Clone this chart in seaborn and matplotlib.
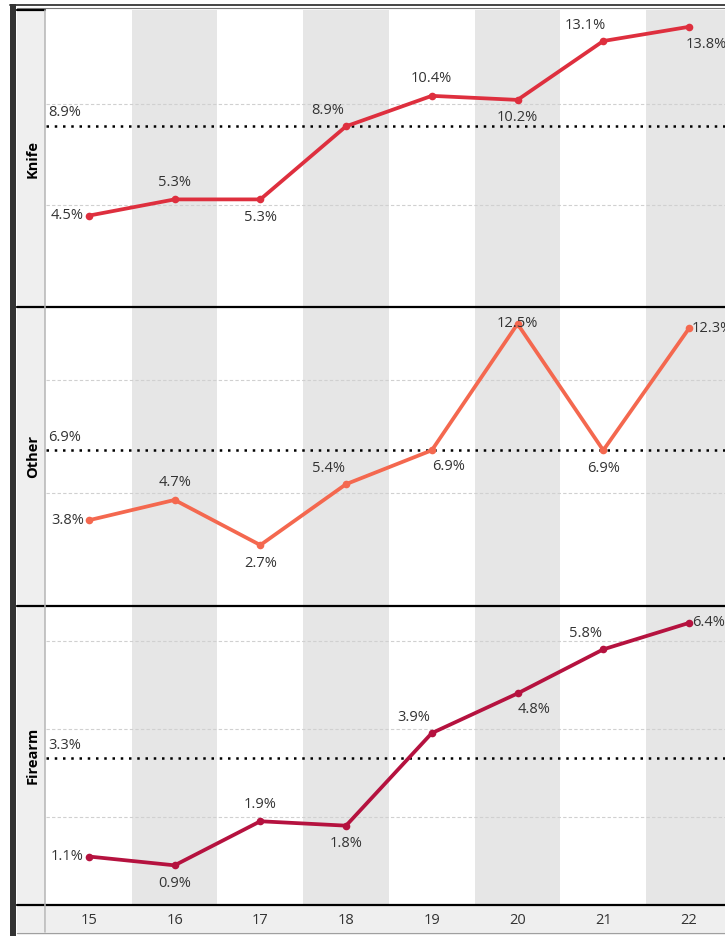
import numpy as np
import pandas as pd
import matplotlib
matplotlib.use("Agg")
import matplotlib.pyplot as plt
from matplotlib.lines import Line2D
from matplotlib.patches import Rectangle
import seaborn as sns

# ---------------- data ----------------
years = [15, 16, 17, 18, 19, 20, 21, 22]
categories = ["Knife", "Other", "Firearm"]
knife = [4.5, 5.3, 5.3, 8.9, 10.4, 10.2, 13.1, 13.8]
other = [3.8, 4.7, 2.7, 5.4, 6.9, 12.5, 6.9, 12.3]
firearm = [1.1, 0.9, 1.9, 1.8, 3.9, 4.8, 5.8, 6.4]
grid_ticks = {"Knife": [5, 10], "Other": [5, 10], "Firearm": [2, 4, 6]}

series = {"Knife": knife, "Other": other, "Firearm": firearm}
df = pd.concat([pd.DataFrame({"year": years, "value": v, "category": k})
                for k, v in series.items()], ignore_index=True)

# ---------------- style ----------------
colors = {"Knife": "#DE2F3E", "Other": "#F4684F", "Firearm": "#B5123F"}
placements = {
    "Knife":   ["left", "above", "below", "aboveleft", "above", "below", "aboveleft", "belowright"],
    "Other":   ["left", "above", "below", "aboveleft", "belowright2", "on", "below", "right"],
    "Firearm": ["left", "below", "above", "below", "aboveleft", "belowright2", "aboveleft", "right"],
}
place_fmt = {
    "left": (-5, 0, "right", "center"),
    "above": (0, 17, "center", "center"),
    "below": (0, -18, "center", "center"),
    "aboveleft": (-18, 16, "center", "center"),
    "belowright": (-3, -18, "left", "center"),
    "belowright2": (17, -16, "center", "center"),
    "on": (0, 0, "center", "center"),
    "right": (3, 0, "left", "center"),
}
FS = 10.5

sns.set_style("white")
plt.rcParams["font.family"] = ["Open Sans", "DejaVu Sans"]

W, H = 725, 936
fig = plt.figure(figsize=(W / 100, H / 100), dpi=100)


def rect(x0, y0, x1, y1):
    return [x0 / W, 1 - y1 / H, (x1 - x0) / W, (y1 - y0) / H]


def hline(y, x0, x1, color, lw, z=10):
    fig.add_artist(Line2D([x0 / W, x1 / W], [1 - y / H, 1 - y / H],
                          color=color, lw=lw, transform=fig.transFigure, zorder=z))


def vline(x, y0, y1, color, lw, z=10):
    fig.add_artist(Line2D([x / W, x / W], [1 - y0 / H, 1 - y1 / H],
                          color=color, lw=lw, transform=fig.transFigure, zorder=z))


xlim = (14.5, 22.42)
panel_y = [(10, 307), (307, 606), (606, 905)]

# left strip
strip = fig.add_axes(rect(17, 10, 45, 932))
strip.set_facecolor("#EFEFEF")
strip.set_xticks([]); strip.set_yticks([])
for s in strip.spines.values():
    s.set_visible(False)

for cat, (y0, y1) in zip(categories, panel_y):
    ax = fig.add_axes(rect(46, y0, W, y1))
    ax.set_facecolor("white")
    for i, yr in enumerate(years):
        if i % 2 == 1:
            ax.axvspan(yr - 0.5, yr + 0.5, color="#E6E6E6", lw=0, zorder=0.1)
    sub = df[df["category"] == cat]
    sns.lineplot(data=sub, x="year", y="value", ax=ax, color=colors[cat],
                 lw=2.7, marker="o", markersize=5.5, markeredgewidth=0, zorder=5)
    vals = series[cat]
    ax.set_xlim(*xlim)
    ax.set_ylim(0, max(vals) * 1.06)
    ax.set_yticks(grid_ticks[cat])
    ax.set_xticks([])
    ax.yaxis.grid(True, ls=(0, (3, 2)), color="#D0D0D0", lw=0.8, zorder=0.5)
    ax.tick_params(left=False, labelleft=False, bottom=False, labelbottom=False)
    ax.set_xlabel(""); ax.set_ylabel("")
    for s in ax.spines.values():
        s.set_visible(False)
    mean = float(np.mean(vals))
    ax.axhline(mean, color="black", lw=1.8, ls=(0, (1, 2.3)), zorder=4)
    ax.annotate(f"{mean:.1f}%", xy=(0, mean), xycoords=("axes fraction", "data"),
                xytext=(2, 13), textcoords="offset pixels", ha="left", va="center",
                fontsize=FS, color="#333333", zorder=6)
    for x, v, p in zip(years, vals, placements[cat]):
        dx, dy, ha, va = place_fmt[p]
        ax.annotate(f"{v:.1f}%", xy=(x, v), xytext=(dx, dy), textcoords="offset pixels",
                    ha=ha, va=va, fontsize=FS, color="#333333", zorder=6,
                    annotation_clip=False)
    fig.text(33 / W, 1 - ((y0 + y1) / 2) / H, cat, rotation=90, ha="center", va="center",
             fontsize=10.5, fontweight="bold", color="black")

# x axis strip
xax = fig.add_axes(rect(46, 905, W, 932))
xax.set_facecolor("#EFEFEF")
xax.set_xlim(*xlim)
xax.set_ylim(0, 1)
xax.set_yticks([])
xax.set_xticks(years)
xax.set_xticklabels([str(y) for y in years])
xax.tick_params(axis="x", length=0, pad=-13.5, labelsize=FS, labelcolor="#333333")
for s in xax.spines.values():
    s.set_visible(False)

# frame lines
for y in (307, 606, 905):
    hline(y, 17, W, "black", 1.6)
hline(10, 17, 45, "black", 1.6)
vline(45.5, 10, 932, "#B5B5B5", 1.1)
hline(932.5, 17, W, "#A0A0A0", 1.0)
hline(4.5, 10, W, "#444444", 1.4)
hline(7.5, 17, W, "#777777", 0.8)
fig.add_artist(Rectangle((10 / W, 0), 6 / W, 1 - 4 / H, transform=fig.transFigure,
                         color="#333333", lw=0, zorder=10))

fig.savefig("out.png", dpi=100)
